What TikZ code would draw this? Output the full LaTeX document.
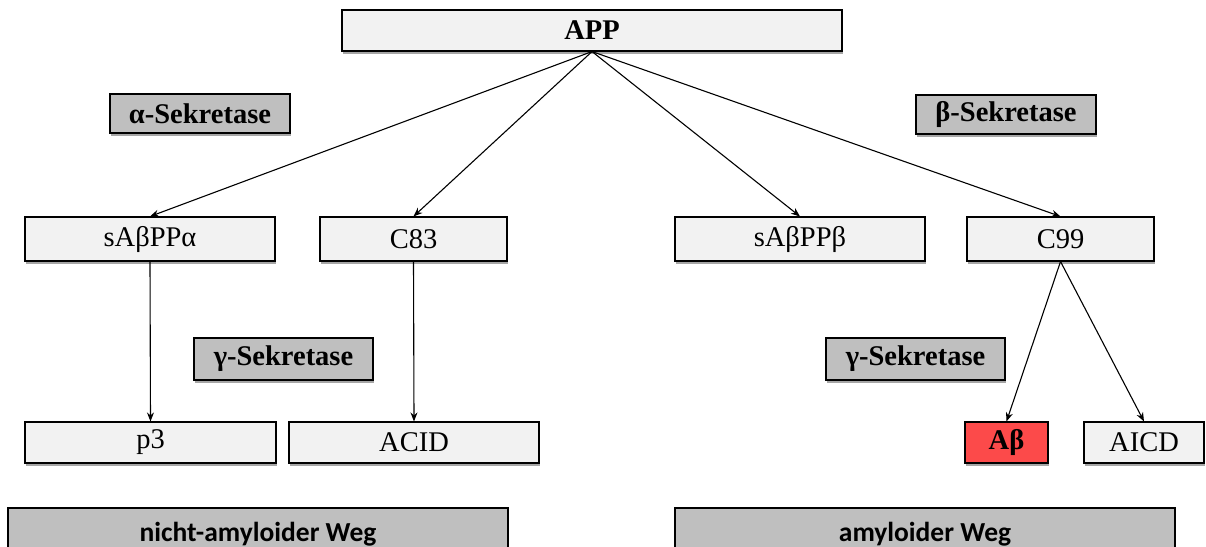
\documentclass[tikz,border=0pt]{standalone}
\usepackage{fontspec}
\setmainfont{LiberationSerif}[Extension=.ttf, UprightFont=*-Regular, BoldFont=*-Bold, ItalicFont=*-Italic, BoldItalicFont=*-BoldItalic]
\newfontfamily\timesf{LiberationSerif}[Extension=.ttf, UprightFont=*-Regular, BoldFont=*-Bold]
\newfontfamily\calibri{Carlito}
\usetikzlibrary{shadows,arrows.meta}
\definecolor{lightbox}{RGB}{242,242,242}
\definecolor{graybox}{RGB}{191,191,191}
\definecolor{redbox}{RGB}{252,74,74}
\tikzset{
  base/.style={draw=black, line width=1.1pt, inner sep=0pt, align=center,
    font=\timesf\fontsize{28.5}{31}\selectfont,
    drop shadow={shadow xshift=1pt, shadow yshift=-2.5pt, opacity=0.35, fill=black}},
  light/.style={base, fill=lightbox},
  boldtext/.style={font=\timesf\fontsize{28.5}{31}\selectfont\bfseries},
  enzyme/.style={base, fill=graybox, boldtext},
  way/.style={draw=black, line width=1.1pt, fill=graybox, inner sep=0pt,
    font=\calibri\fontsize{27.5}{30}\selectfont\bfseries},
  conn/.style={line width=1.1pt, -{Stealth[length=9pt,width=7pt]}}
}
\begin{document}
\begin{tikzpicture}[x=1pt,y=-1pt]
\useasboundingbox (0,0) rectangle (1206,546);
\clip (0,0) rectangle (1206,546);
\fill[white] (0,0) rectangle (1206,546);
% top
\node[light, boldtext, minimum width=500pt, minimum height=41pt] (APP) at (592,30.5) {APP};
% enzymes
\node[enzyme, minimum width=180pt, minimum height=39pt] (alpha) at (200,113.5) {α-Sekretase};
\node[enzyme, minimum width=180pt, minimum height=39pt] (beta) at (1006,114.5) {β-Sekretase};
\node[enzyme, minimum width=179pt, minimum height=42pt] (gamma1) at (283.5,359) {γ-Sekretase};
\node[enzyme, minimum width=179pt, minimum height=42pt] (gamma2) at (915.5,359) {γ-Sekretase};
% second row
\node[light, minimum width=250pt, minimum height=44pt] (sAPPa) at (150,239) {sAβPPα};
\node[light, minimum width=187pt, minimum height=44pt] (C83) at (413.5,239) {C83};
\node[light, minimum width=250pt, minimum height=44pt] (sAPPb) at (800,239) {sAβPPβ};
\node[light, minimum width=187pt, minimum height=44pt] (C99) at (1060.5,239) {C99};
% third row
\node[light, minimum width=251pt, minimum height=41pt] (p3) at (150.5,442.5) {p3};
\node[light, minimum width=250pt, minimum height=41pt] (ACID) at (414,442.5) {ACID};
\node[base, fill=redbox, boldtext, minimum width=83pt, minimum height=41pt] (Abeta) at (1006.5,442.5) {Aβ};
\node[light, minimum width=120pt, minimum height=41pt] (AICD) at (1144,442.5) {AICD};
% pathways
\node[way, minimum width=500pt, minimum height=52pt] (nonamy) at (258,534) {nicht-amyloider Weg};
\node[way, minimum width=500pt, minimum height=52pt] (amy) at (925,534) {amyloider Weg};
% connectors
\draw[conn] (APP.south) -- (sAPPa.north);
\draw[conn] (APP.south) -- (C83.north);
\draw[conn] (APP.south) -- (sAPPb.north);
\draw[conn] (APP.south) -- (C99.north);
\draw[conn] (sAPPa.south) -- (p3.north);
\draw[conn] (C83.south) -- (ACID.north);
\draw[conn] (C99.south) -- (Abeta.north);
\draw[conn] (C99.south) -- (AICD.north);
\end{tikzpicture}
\end{document}
